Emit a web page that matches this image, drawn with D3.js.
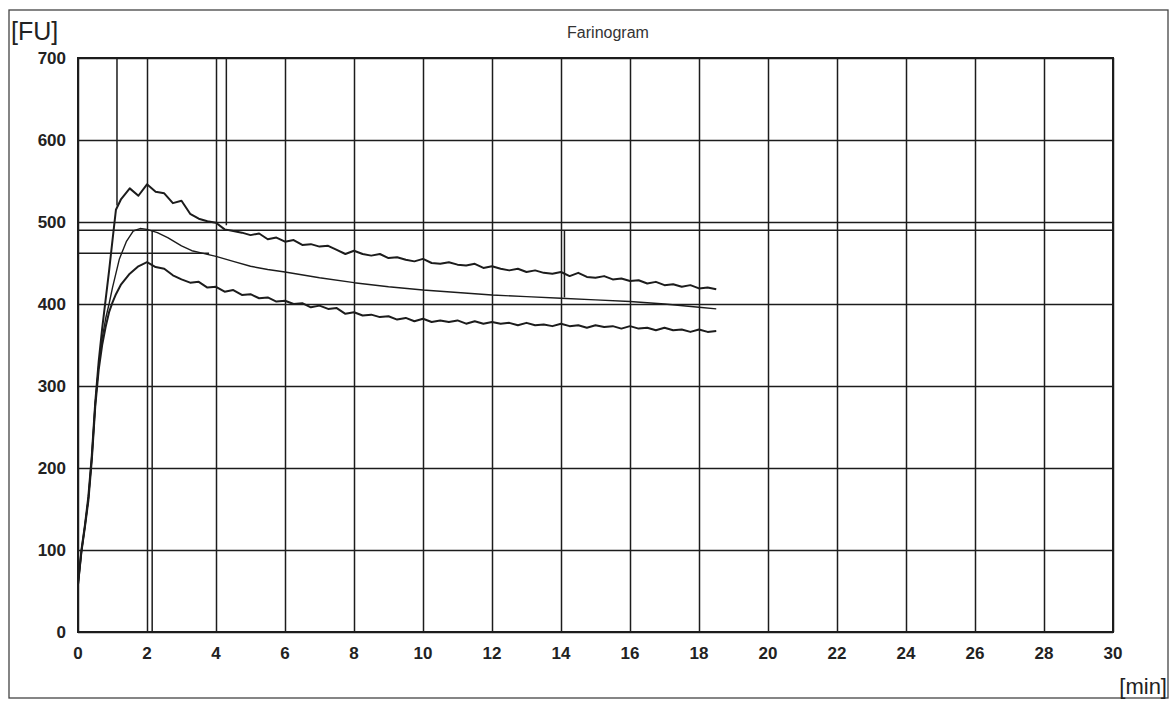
<!DOCTYPE html>
<html>
<head>
<meta charset="utf-8">
<script src="https://cdn.jsdelivr.net/npm/d3@7"></script>
<style>
  body { margin: 0; background: #fff; }
  svg { display: block; font-family: "Liberation Sans", Arial, sans-serif; }
</style>
</head>
<body>
<svg id="chart" width="1171" height="702"></svg>
<script>
// time axis of the two noisy curves (min)
const minutes = [0, 0.1, 0.2, 0.3, 0.4, 0.5, 0.6, 0.7, 0.8, 0.9, 1.0, 1.1,
  1.25, 1.5, 1.75, 2, 2.25, 2.5, 2.75, 3, 3.25, 3.5, 3.75, 4,
  4.25, 4.5, 4.75, 5, 5.25, 5.5, 5.75, 6, 6.25, 6.5, 6.75, 7, 7.25, 7.5, 7.75, 8,
  8.25, 8.5, 8.75, 9, 9.25, 9.5, 9.75, 10, 10.25, 10.5, 10.75, 11, 11.25, 11.5, 11.75, 12,
  12.25, 12.5, 12.75, 13, 13.25, 13.5, 13.75, 14, 14.25, 14.5, 14.75, 15, 15.25, 15.5, 15.75, 16,
  16.25, 16.5, 16.75, 17, 17.25, 17.5, 17.75, 18, 18.25, 18.5];

// upper band (FU)
const upperFU = [58, 100, 130, 165, 215, 280, 330, 370, 405, 440, 478, 515,
  528, 541, 532, 546, 537, 535, 523, 526, 510, 504, 501, 499,
  491, 489, 487, 484, 486, 479, 481, 476, 478, 472, 473, 470, 471, 466, 461, 465,
  461, 459, 461, 456, 457, 454, 452, 455, 450, 449, 451, 448, 447, 449, 444, 446,
  443, 441, 443, 439, 441, 438, 437, 439, 434, 438, 433, 432, 434, 430, 431, 428,
  429, 425, 427, 423, 424, 421, 423, 419, 420, 418];

// lower band (FU)
const lowerFU = [58, 98, 128, 160, 210, 275, 320, 350, 372, 390, 402, 412,
  424, 437, 446, 451, 445, 443, 435, 430, 426, 427, 420, 421,
  415, 417, 411, 412, 407, 408, 403, 404, 400, 401, 396, 398, 394, 395, 388, 390,
  386, 387, 384, 385, 381, 383, 379, 382, 378, 380, 378, 380, 376, 379, 376, 378,
  376, 377, 374, 377, 374, 375, 373, 376, 373, 374, 371, 374, 372, 373, 370, 373,
  370, 371, 368, 371, 368, 369, 366, 369, 366, 367];

// smoothed centre curve
const meanMin = [0, 0.1, 0.2, 0.3, 0.4, 0.5, 0.6, 0.7, 0.8, 0.9, 1.0, 1.2, 1.4, 1.6, 1.8, 2.0,
  2.3, 2.6, 3.0, 3.3, 3.6, 4.0, 4.5, 5, 5.5, 6, 7, 8, 9, 10, 11, 12, 13, 14, 15, 16, 17, 18, 18.5];
const meanFU = [58, 98, 129, 162, 212, 278, 325, 358, 382, 400, 420, 455, 476, 489, 492, 491,
  487, 481, 471, 465, 462, 458, 452, 446, 442, 439, 432, 426, 421, 417, 414, 411, 409, 407, 405, 403, 400, 396, 394];

// evaluation marker lines: [minute from, FU from, minute to, FU to]
const markers = [
  [0, 490, 30, 490],
  [0, 462, 3.8, 462],
  [1.13, 700, 1.13, 520],
  [2.15, 490, 2.15, 0],
  [4.3, 700, 4.3, 496],
  [14.1, 490, 14.1, 408]
];

const xTicks = [0, 2, 4, 6, 8, 10, 12, 14, 16, 18, 20, 22, 24, 26, 28, 30];
const yTicks = [0, 100, 200, 300, 400, 500, 600, 700];

const svg = d3.select("#chart");
const ink = "#1c1c1c";
const margin = { left: 78, right: 1113, top: 58, bottom: 632 };

const x = d3.scaleLinear().domain([0, 30]).range([margin.left, margin.right]);
const y = d3.scaleLinear().domain([0, 700]).range([margin.bottom, margin.top]);

// outer frame
svg.append("rect")
  .attr("x", 9).attr("y", 10)
  .attr("width", 1159).attr("height", 688)
  .attr("fill", "none").attr("stroke", "#444").attr("stroke-width", 1.3);

// grid via axes
svg.append("g")
  .attr("transform", `translate(0,${margin.bottom})`)
  .call(d3.axisBottom(x).tickValues(xTicks).tickSize(-(margin.bottom - margin.top)).tickFormat(""))
  .call(g => g.select(".domain").remove())
  .selectAll("line").attr("stroke", ink).attr("stroke-width", 1.5);

svg.append("g")
  .attr("transform", `translate(${margin.left},0)`)
  .call(d3.axisLeft(y).tickValues(yTicks).tickSize(-(margin.right - margin.left)).tickFormat(""))
  .call(g => g.select(".domain").remove())
  .selectAll("line").attr("stroke", ink).attr("stroke-width", 1.5);

// plot border
svg.append("rect")
  .attr("x", margin.left).attr("y", margin.top)
  .attr("width", margin.right - margin.left).attr("height", margin.bottom - margin.top)
  .attr("fill", "none").attr("stroke", ink).attr("stroke-width", 2);

// tick labels
svg.append("g").selectAll("text")
  .data(xTicks).join("text")
  .attr("x", d => x(d)).attr("y", 659)
  .attr("text-anchor", "middle")
  .attr("font-size", 17).attr("font-weight", "bold").attr("fill", "#222")
  .text(d => d);

svg.append("g").selectAll("text")
  .data(yTicks).join("text")
  .attr("x", 66).attr("y", d => y(d) + 6)
  .attr("text-anchor", "end")
  .attr("font-size", 17).attr("font-weight", "bold").attr("fill", "#222")
  .text(d => d);

// marker lines
svg.append("g").selectAll("line")
  .data(markers).join("line")
  .attr("x1", d => x(d[0])).attr("y1", d => y(d[1]))
  .attr("x2", d => x(d[2])).attr("y2", d => y(d[3]))
  .attr("stroke", ink).attr("stroke-width", 1.5);

// curves
const line = d3.line().x(d => x(d[0])).y(d => y(d[1]));
const curves = [
  d3.zip(minutes, upperFU),
  d3.zip(meanMin, meanFU),
  d3.zip(minutes, lowerFU)
];
svg.append("g").selectAll("path")
  .data(curves).join("path")
  .attr("d", line)
  .attr("fill", "none")
  .attr("stroke", ink)
  .attr("stroke-width", (d, i) => i === 1 ? 1.4 : 2)
  .attr("stroke-linejoin", "round");

// titles
svg.append("text").attr("x", 608).attr("y", 38)
  .attr("text-anchor", "middle").attr("font-size", 16).attr("fill", "#333")
  .text("Farinogram");
svg.append("text").attr("x", 11).attr("y", 40)
  .attr("font-size", 25).attr("fill", "#222")
  .text("[FU]");
svg.append("text").attr("x", 1167).attr("y", 694)
  .attr("text-anchor", "end").attr("font-size", 22).attr("fill", "#222")
  .text("[min]");
</script>
</body>
</html>
